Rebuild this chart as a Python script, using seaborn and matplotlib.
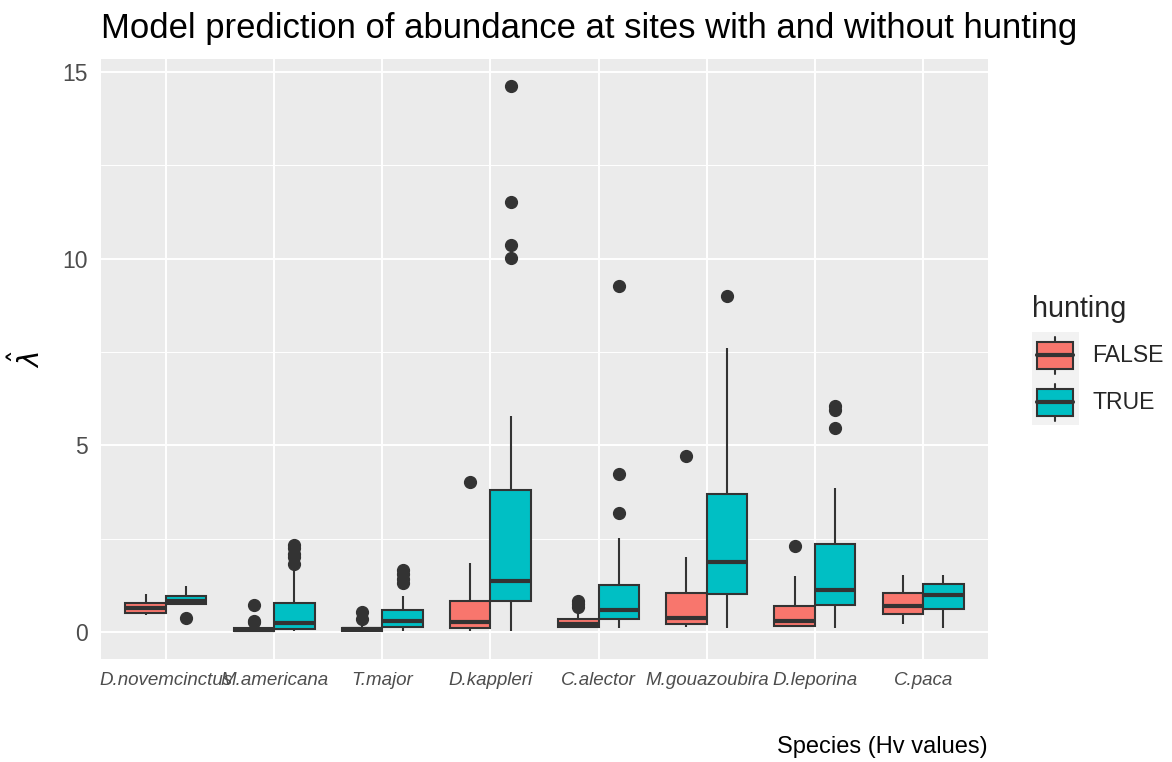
import numpy as np
import pandas as pd
import matplotlib
matplotlib.use("Agg")
import matplotlib.pyplot as plt
import seaborn as sns
from matplotlib.legend_handler import HandlerBase
from matplotlib.patches import Rectangle, Patch
from matplotlib.lines import Line2D
from matplotlib.ticker import MultipleLocator

# ---------------- data ----------------
species = ["D.novemcinctus", "M.americana", "T.major", "D.kappleri",
           "C.alector", "M.gouazoubira", "D.leporina", "C.paca"]
hunting_levels = ["FALSE", "TRUE"]

# hunting == FALSE : box-plot summaries
whislo_f = [0.45, 0.01, 0.01, 0.02, 0.10, 0.13, 0.13, 0.21]
q1_f     = [0.50, 0.03, 0.03, 0.10, 0.15, 0.22, 0.17, 0.48]
med_f    = [0.64, 0.06, 0.07, 0.26, 0.22, 0.37, 0.31, 0.70]
q3_f     = [0.79, 0.11, 0.12, 0.83, 0.35, 1.05, 0.71, 1.04]
whishi_f = [1.01, 0.20, 0.22, 1.84, 0.57, 2.01, 1.50, 1.53]
out_f    = [[], [0.27, 0.31, 0.72], [0.34, 0.54], [4.03],
            [0.68, 0.75, 0.82], [4.71], [2.30], []]

# hunting == TRUE : box-plot summaries
whislo_t = [0.72, 0.03, 0.03, 0.03, 0.12, 0.12, 0.11, 0.10]
q1_t     = [0.74, 0.09, 0.15, 0.83, 0.34, 1.01, 0.73, 0.63]
med_t    = [0.82, 0.25, 0.30, 1.36, 0.59, 1.89, 1.13, 0.99]
q3_t     = [0.97, 0.77, 0.60, 3.81, 1.27, 3.71, 2.35, 1.29]
whishi_t = [1.23, 1.71, 0.97, 5.78, 2.53, 7.62, 3.87, 1.54]
out_t    = [[0.38], [1.83, 2.00, 2.10, 2.25, 2.33], [1.32, 1.42, 1.55, 1.67],
            [10.03, 10.36, 11.52, 14.62], [3.20, 4.23, 9.28], [9.01],
            [5.47, 5.94, 6.05], []]

palette = {"FALSE": "#F8766D", "TRUE": "#00BFC4"}


def build_sample(lo, q1, med, q3, hi, outliers):
    """Sample made only of the read values whose quartiles equal them."""
    lows = sorted(v for v in outliers if v < q1)
    highs = sorted(v for v in outliers if v > q3)
    for a in range(1, 400):
        b = len(lows) + a - len(highs)
        if b < 1:
            continue
        vals = np.array(lows + [lo] + [q1] * a + [med] + [q3] * b + [hi] + highs)
        if np.allclose(np.percentile(vals, [25, 50, 75]), [q1, med, q3]):
            return vals
    raise ValueError("cannot build sample")


rows = []
for i, sp in enumerate(species):
    for lvl, (lo, a1, m, a3, hi, out) in zip(
        hunting_levels,
        [(whislo_f[i], q1_f[i], med_f[i], q3_f[i], whishi_f[i], out_f[i]),
         (whislo_t[i], q1_t[i], med_t[i], q3_t[i], whishi_t[i], out_t[i])]):
        for v in build_sample(lo, a1, m, a3, hi, out):
            rows.append({"species": sp, "hunting": lvl, "lam": v})
df = pd.DataFrame(rows)

# ---------------- style ----------------
sns.set_theme(style="darkgrid", rc={
    "axes.facecolor": "#EBEBEB",
    "figure.facecolor": "white",
    "grid.color": "white",
})
plt.rcParams["font.family"] = ["Liberation Sans", "DejaVu Sans"]

W, H = 1172, 762
fig = plt.figure(figsize=(W / 100, H / 100), dpi=100)
ax = fig.add_axes([101 / W, 1 - 659 / H, 887 / W, 600 / H])

LINE = "#333333"
LW = 1.5
sns.boxplot(
    data=df, x="species", y="lam", hue="hunting",
    order=species, hue_order=hunting_levels, palette=palette,
    width=0.75, gap=0, saturation=1, linecolor=LINE, linewidth=LW,
    showcaps=False,
    boxprops=dict(linewidth=LW, edgecolor=LINE),
    whiskerprops=dict(linewidth=LW, color=LINE),
    flierprops=dict(marker="o", markerfacecolor=LINE, markeredgecolor=LINE,
                    markersize=8.5),
    medianprops=dict(linewidth=3.0, color=LINE),
    legend=False, ax=ax,
)

ymin, ymax = df["lam"].min(), df["lam"].max()
pad = 0.05 * (ymax - ymin)
ax.set_ylim(ymin - pad, ymax + pad)
ax.set_xlim(-0.6, len(species) - 0.4)
ax.set_yticks([0, 5, 10, 15])
ax.yaxis.set_minor_locator(MultipleLocator(2.5))

ax.set_axisbelow(True)
ax.grid(which="major", color="white", linewidth=1.4)
ax.grid(which="minor", axis="y", color="white", linewidth=0.7)
for s in ax.spines.values():
    s.set_visible(False)

ax.tick_params(axis="both", which="major", length=4.5, width=1.1,
               color=LINE, labelcolor="#4D4D4D")
ax.tick_params(axis="both", which="minor", length=0)
ax.tick_params(axis="y", labelsize=16.5, pad=5)
ax.tick_params(axis="x", pad=5)
for lab in ax.get_xticklabels():
    lab.set_fontstyle("italic")
    lab.set_fontsize(13.5)

ax.set_title("Model prediction of abundance at sites with and without hunting",
             loc="left", fontsize=24.9, pad=15, color="black")

ax.set_xlabel("Species (Hv values)", loc="right", fontsize=17, color="black")
ax.xaxis.set_label_coords(1.0, -88 / 600)
ax.xaxis.label.set_va("center")

ax.set_ylabel(r"$\hat{\lambda}$", fontsize=20, color="black", rotation=90)
ax.yaxis.set_label_coords((28 - 101) / 887, 0.5)
ax.yaxis.label.set_va("center")


# ---------------- legend with boxplot glyph keys ----------------
class BoxHandler(HandlerBase):
    def create_artists(self, legend, orig_handle, xdescent, ydescent,
                       width, height, fontsize, trans):
        x0, y0 = -xdescent, -ydescent
        fc = orig_handle.get_facecolor()
        bg = Rectangle((x0, y0), width, height, facecolor="#F2F2F2",
                       edgecolor="none", transform=trans)
        cx = x0 + width / 2
        wl = Line2D([cx, cx], [y0 + 0.09 * height, y0 + 0.89 * height],
                    color=LINE, lw=LW, transform=trans)
        box = Rectangle((x0 + 0.11 * width, y0 + 0.21 * height),
                        0.77 * width, 0.57 * height, facecolor=fc,
                        edgecolor=LINE, lw=LW, transform=trans)
        med = Line2D([x0 + 0.11 * width, x0 + 0.88 * width],
                     [y0 + 0.495 * height] * 2, color=LINE, lw=3.0,
                     transform=trans)
        return [bg, wl, box, med]


handles = [Patch(facecolor=palette[h], edgecolor=LINE, label=h)
           for h in hunting_levels]
leg = fig.legend(handles=handles, labels=hunting_levels, title="hunting",
                 loc="center left", bbox_to_anchor=(1031.7 / W, 1 - 360 / H),
                 frameon=False, fontsize=16.6, title_fontsize=20.7,
                 handlelength=2.04, handleheight=2.755, labelspacing=0,
                 handletextpad=0.6, borderpad=0, borderaxespad=0,
                 alignment="left", handler_map={Patch: BoxHandler()})
try:
    leg._legend_box.sep = 6.5
except Exception:
    pass

fig.savefig("out.png", dpi=100)
